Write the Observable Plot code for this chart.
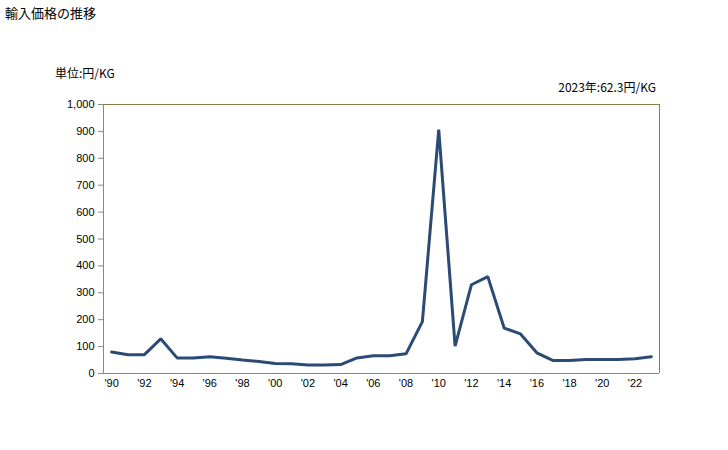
<!DOCTYPE html>
<html>
<head>
<meta charset="utf-8">
<script src="https://cdn.jsdelivr.net/npm/d3@7"></script>
<script src="https://cdn.jsdelivr.net/npm/@observablehq/plot@0.6"></script>
<style>
  body { margin: 0; background: #fff; }
  #wrap { position: relative; width: 728px; height: 450px; font-family: "Liberation Sans", "Noto Sans CJK JP", sans-serif; }
  .lbl { position: absolute; font-size: 12px; color: #000; white-space: nowrap; font-family: "Noto Sans CJK JP", sans-serif; }
</style>
</head>
<body>
<div id="wrap">
  <div class="lbl" style="left:5px; top:3px; font-size:13px;">輸入価格の推移</div>
  <div class="lbl" style="left:55px; top:64px;">単位:円/KG</div>
  <div class="lbl" style="right:72px; top:78px;">2023年:62.3円/KG</div>
  <div id="chart"></div>
</div>
<script>
const years = d3.range(1990, 2024);
const prices = [80, 70, 70, 129, 58, 58, 62, 57, 50, 45, 37, 36, 32, 32, 33, 58, 66, 66, 73, 193,
                907, 102, 330, 360, 169, 147, 77, 48, 48, 52, 52, 52, 55, 62.3];
const xTicks = d3.range(1990, 2023, 2);
const yTicks = d3.range(0, 1001, 100);

const data = years.map((y, i) => ({year: y, price: prices[i]}));

const chart = Plot.plot({
  width: 728,
  height: 450,
  marginLeft: 103,
  marginRight: 69,
  marginTop: 104,
  marginBottom: 77,
  style: {fontFamily: "Liberation Sans, sans-serif", fontSize: "11px", color: "#000", background: "transparent"},
  x: {domain: [1989.5, 2023.5], label: null},
  y: {domain: [0, 1000], label: null},
  marks: [
    Plot.axisX({ticks: xTicks, tickFormat: d => "'" + String(d).slice(2), tickSize: 0, tickPadding: 6, fontSize: 11}),
    Plot.axisY({ticks: yTicks, tickFormat: d3.format(","), tickSize: 5, tickPadding: 4, stroke: "#888", fontSize: 11}),
    Plot.ruleY([1000], {stroke: "#8c7d3e", strokeWidth: 1}),
    Plot.ruleX([2023.5], {stroke: "#8c7d3e", strokeWidth: 1}),
    Plot.ruleY([0], {stroke: "#888", strokeWidth: 1}),
    Plot.ruleX([1989.5], {stroke: "#888", strokeWidth: 1}),
    Plot.line(data, {x: "year", y: "price", stroke: "#2b4a76", strokeWidth: 3, strokeLinejoin: "miter"})
  ]
});
document.getElementById("chart").appendChild(chart);
</script>
</body>
</html>
